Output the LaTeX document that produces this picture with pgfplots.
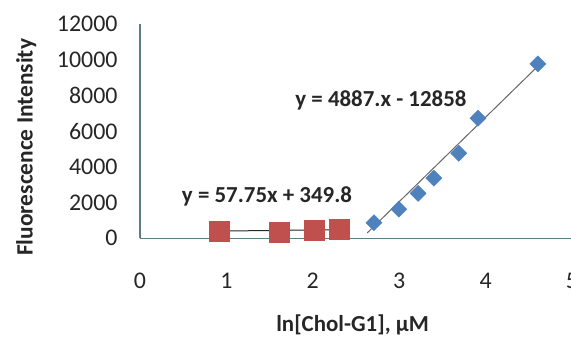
\documentclass[border=0pt]{standalone}
\usepackage{fontspec}
\setmainfont{Carlito}
\usepackage{pgfplots}
\pgfplotsset{compat=1.18}
\definecolor{exred}{HTML}{C0504D}
\definecolor{exblue}{HTML}{4F81BD}
\definecolor{axcol}{RGB}{95,125,135}
\begin{document}
\begin{tikzpicture}
\begin{axis}[
  scale only axis, width=432bp, height=214bp,
  xmin=0, xmax=5, ymin=0, ymax=12000,
  axis x line=bottom, axis y line=left,
  axis line style={-, draw=axcol, line width=1.3bp},
  xtick={0,1,2,3,4,5}, ytick={0,2000,...,12000},
  scaled ticks=false,
  major tick length=0pt,
  tick label style={font=\fontsize{24}{28}\selectfont, text=black!85},
  /pgf/number format/assume math mode=true,
  /pgf/number format/1000 sep={},
  xticklabel style={yshift=-31bp},
  yticklabel style={xshift=-19bp},
  clip=false,
]
% red squares
\addplot[only marks, mark=square*, mark size=10bp, mark options={fill=exred, draw=exred}]
  coordinates {(0.916,420) (1.609,340) (2.015,430) (2.303,510)};
% blue diamonds
\addplot[only marks, mark=square*, mark size=5.7bp, mark options={rotate=45, fill=exblue, draw=exblue}]
  coordinates {(2.708,875) (2.996,1630) (3.219,2520) (3.401,3370) (3.689,4770) (3.912,6730) (4.605,9780)};
% trendlines
\addplot[black!85, line width=1bp] coordinates {(0.916,403) (2.303,483)};
\addplot[black!60, line width=1bp] coordinates {(2.63,300) (4.63,9770)};
% equations
\node[font=\bfseries\fontsize{23}{27}\selectfont, text=black!85, anchor=base] at (axis cs:1.47,1979) {y = 57.75x + 349.8};
\node[font=\bfseries\fontsize{23}{27}\selectfont, text=black!85, anchor=base] at (axis cs:2.789,7363) {y = 4887.x - 12858};
% axis titles
\node[font=\bfseries\fontsize{23.5}{27}\selectfont, text=black!85, rotate=90, anchor=base] at (axis cs:-1.244,5100) {Fluorescence Intensity};
\node[font=\bfseries\fontsize{23}{27}\selectfont, text=black!85, anchor=base] at (axis cs:2.46,-5238) {ln[Chol-G1], μM};
\coordinate (bl) at (axis cs:-1.6204,-5591);
\coordinate (tr) at (axis cs:4.9884,13362);
\end{axis}
\pgfresetboundingbox
\path[use as bounding box] (bl) rectangle (tr);
\end{tikzpicture}
\end{document}
